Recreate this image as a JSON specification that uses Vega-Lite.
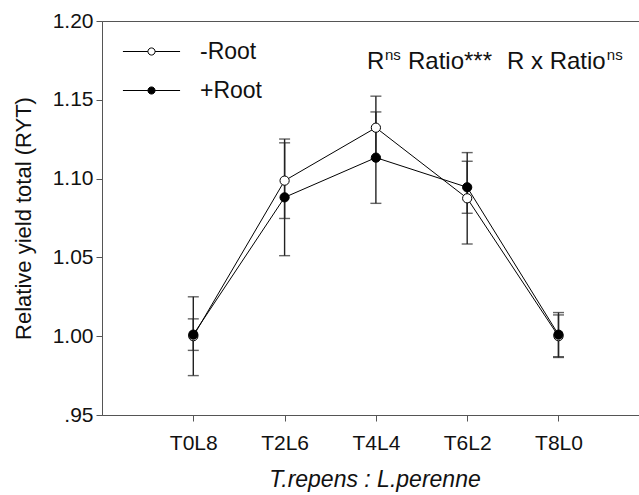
{
  "$schema": "https://vega.github.io/schema/vega-lite/v6.json",
  "width": 545,
  "height": 394,
  "autosize": {"type": "none"},
  "padding": {"left": 102, "top": 21, "right": 0, "bottom": 80},
  "background": "white",
  "config": {
    "font": "Liberation Sans",
    "view": {"stroke": "#555", "strokeWidth": 1},
    "axis": {
      "grid": false,
      "domainColor": "#555",
      "tickColor": "#555",
      "tickSize": 6,
      "labelColor": "#111",
      "titleColor": "#111",
      "titleFontWeight": "normal",
      "labelFont": "Liberation Sans",
      "titleFont": "Liberation Sans"
    }
  },
  "data": {
    "values": [
      {"root": "-Root", "t": 0, "ryt": 1.000, "se": 0.025},
      {"root": "-Root", "t": 2, "ryt": 1.0987, "se": 0.024},
      {"root": "-Root", "t": 4, "ryt": 1.1323, "se": 0.020},
      {"root": "-Root", "t": 6, "ryt": 1.0875, "se": 0.029},
      {"root": "-Root", "t": 8, "ryt": 1.000, "se": 0.0135},
      {"root": "+Root", "t": 0, "ryt": 1.001, "se": 0.010},
      {"root": "+Root", "t": 2, "ryt": 1.0881, "se": 0.037},
      {"root": "+Root", "t": 4, "ryt": 1.1133, "se": 0.029},
      {"root": "+Root", "t": 6, "ryt": 1.0945, "se": 0.0165},
      {"root": "+Root", "t": 8, "ryt": 1.001, "se": 0.014}
    ]
  },
  "encoding": {
    "x": {
      "field": "t",
      "type": "quantitative",
      "scale": {"domain": [-2, 9.939], "nice": false, "zero": false},
      "axis": {
        "values": [0, 2, 4, 6, 8],
        "labelExpr": "'T' + datum.value + 'L' + (8 - datum.value)",
        "labelFontSize": 21,
        "labelPadding": 11,
        "title": "T.repens : L.perenne",
        "titleFontSize": 23,
        "titleFontStyle": "italic",
        "titlePadding": 15
      }
    },
    "y": {
      "field": "ryt",
      "type": "quantitative",
      "scale": {"domain": [0.95, 1.2], "nice": false, "zero": false},
      "axis": {
        "values": [0.95, 1.0, 1.05, 1.1, 1.15, 1.2],
        "format": ".2f",
        "labelExpr": "datum.label == '0.95' ? '.95' : datum.label",
        "labelFontSize": 21,
        "labelPadding": 3,
        "title": "Relative yield total (RYT)",
        "titleFontSize": 22,
        "titlePadding": 17
      }
    }
  },
  "layer": [
    {
      "mark": {"type": "line", "color": "black", "strokeWidth": 1},
      "encoding": {"detail": {"field": "root"}}
    },
    {
      "mark": {
        "type": "errorbar",
        "color": "#222",
        "thickness": 1.4,
        "ticks": {"size": 11, "thickness": 1.4, "color": "#222"}
      },
      "encoding": {
        "yError": {"field": "se"},
        "detail": {"field": "root"}
      }
    },
    {
      "mark": {"type": "point", "filled": true, "size": 85, "stroke": "black", "strokeWidth": 1, "opacity": 1},
      "encoding": {
        "fill": {
          "field": "root",
          "type": "nominal",
          "scale": {"domain": ["-Root", "+Root"], "range": ["white", "black"]},
          "legend": {
            "title": null,
            "orient": "none",
            "legendX": 38,
            "legendY": 19,
            "padding": 0,
            "symbolType": "M-8,0L-1,0M1,0L8,0M-1,0A1,1,0,1,0,1,0A1,1,0,1,0,-1,0Z",
            "symbolSize": 51,
            "symbolStrokeColor": "black",
            "symbolStrokeWidth": 1,
            "symbolOpacity": 1,
            "labelFontSize": 23,
            "labelColor": "#111",
            "labelOffset": 37,
            "rowPadding": 15
          }
        }
      }
    },
    {
      "transform": [{"filter": "datum.t == 0 && datum.root == '-Root'"}],
      "mark": {"type": "text", "align": "left", "baseline": "alphabetic", "fontSize": 24, "color": "#111"},
      "encoding": {
        "x": {"datum": 3.805, "type": "quantitative"},
        "y": {"datum": 1.1695, "type": "quantitative"},
        "text": {"value": "R"}
      }
    },
    {
      "transform": [{"filter": "datum.t == 0 && datum.root == '-Root'"}],
      "mark": {"type": "text", "align": "left", "baseline": "alphabetic", "fontSize": 15, "color": "#111"},
      "encoding": {
        "x": {"datum": 4.2, "type": "quantitative"},
        "y": {"datum": 1.1753, "type": "quantitative"},
        "text": {"value": "ns"}
      }
    },
    {
      "transform": [{"filter": "datum.t == 0 && datum.root == '-Root'"}],
      "mark": {"type": "text", "align": "left", "baseline": "alphabetic", "fontSize": 24, "color": "#111"},
      "encoding": {
        "x": {"datum": 4.703, "type": "quantitative"},
        "y": {"datum": 1.1695, "type": "quantitative"},
        "text": {"value": "Ratio***"}
      }
    },
    {
      "transform": [{"filter": "datum.t == 0 && datum.root == '-Root'"}],
      "mark": {"type": "text", "align": "left", "baseline": "alphabetic", "fontSize": 24, "color": "#111"},
      "encoding": {
        "x": {"datum": 6.872, "type": "quantitative"},
        "y": {"datum": 1.1695, "type": "quantitative"},
        "text": {"value": "R x Ratio"}
      }
    },
    {
      "transform": [{"filter": "datum.t == 0 && datum.root == '-Root'"}],
      "mark": {"type": "text", "align": "left", "baseline": "alphabetic", "fontSize": 15, "color": "#111"},
      "encoding": {
        "x": {"datum": 9.06, "type": "quantitative"},
        "y": {"datum": 1.1753, "type": "quantitative"},
        "text": {"value": "ns"}
      }
    }
  ]
}
